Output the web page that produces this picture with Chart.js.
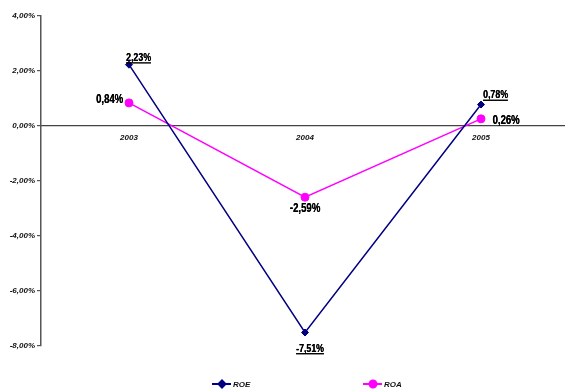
<!DOCTYPE html>
<html>
<head>
<meta charset="utf-8">
<script src="https://cdn.jsdelivr.net/npm/chart.js@4/dist/chart.umd.min.js"></script>
<style>
  html, body { margin: 0; padding: 0; background: #fff; overflow: hidden; }
  canvas { display: block; }
</style>
</head>
<body>
<canvas id="chart" width="574" height="389"></canvas>
<script>
// Yearly profitability ratios (percent)
const categories = ['2003', '2004', '2005'];
const roeValues = [2.23, -7.51, 0.78];
const roaValues = [0.84, -2.59, 0.26];
const yTickValues = [-8, -6, -4, -2, 0, 2, 4];

const ROE_COLOR = '#000080';
const ROA_COLOR = '#FF00FF';

// Percent with a decimal comma, e.g. 2,23%
const fmt = v => v.toFixed(2).replace('.', ',') + '%';

// Where each value label sits relative to its point (dx, dy of the text centre)
const labelPlacement = {
  ROE: [[9.5, -7], [5, 16], [14.5, -9.5]],
  ROA: [[-19.5, -3], [0, 11], [25, 1.5]]
};
const labelSize = { ROE: 11, ROA: 12 };

// Value labels in a condensed bold face; ROE labels are underlined
const valueLabels = {
  id: 'valueLabels',
  afterDatasetsDraw(chart) {
    const ctx = chart.ctx;
    const squeeze = 0.8;
    chart.data.datasets.forEach((ds, di) => {
      const meta = chart.getDatasetMeta(di);
      meta.data.forEach((pt, i) => {
        const [dx, dy] = labelPlacement[ds.label][i];
        const text = fmt(ds.data[i]);
        const x = pt.x + dx, y = pt.y + dy;
        ctx.save();
        ctx.translate(x, y);
        ctx.scale(squeeze, 1);
        ctx.font = 'bold ' + labelSize[ds.label] + 'px "Liberation Sans", Arial, sans-serif';
        ctx.textAlign = 'center';
        ctx.textBaseline = 'middle';
        ctx.fillStyle = '#000';
        ctx.fillText(text, 0, 0);
        ctx.fillText(text, 0.3, 0);
        if (ds.label === 'ROE') {
          const w = ctx.measureText(text).width;
          ctx.fillRect(-w / 2, 4.5, w, 1.4);
        }
        ctx.restore();
      });
    });
  }
};

// Legend drawn along the bottom edge: line + marker + bold italic name
const bottomLegend = {
  id: 'bottomLegend',
  afterDraw(chart) {
    const ctx = chart.ctx;
    const y = 384;
    const items = [
      { x: 212, label: 'ROE', color: ROE_COLOR, style: 'rectRot', r: 3.5 },
      { x: 363, label: 'ROA', color: ROA_COLOR, style: 'circle', r: 3.5 }
    ];
    ctx.save();
    items.forEach(it => {
      ctx.strokeStyle = it.color;
      ctx.lineWidth = 2;
      ctx.beginPath();
      ctx.moveTo(it.x, y);
      ctx.lineTo(it.x + 19, y);
      ctx.stroke();
      ctx.fillStyle = it.color;
      Chart.helpers.drawPoint(ctx, { pointStyle: it.style, radius: it.r, borderWidth: 1 }, it.x + 10, y);
      ctx.fillStyle = '#111';
      ctx.font = 'italic bold 8px "Liberation Sans", Arial, sans-serif';
      ctx.textAlign = 'left';
      ctx.textBaseline = 'middle';
      ctx.fillText(it.label, it.x + 21, y + 0.5);
    });
    ctx.restore();
  }
};

const tickFont = { family: '"Liberation Sans", Arial, sans-serif', size: 8, style: 'italic', weight: 'bold' };

new Chart(document.getElementById('chart'), {
  type: 'line',
  data: {
    labels: categories,
    datasets: [
      {
        label: 'ROE',
        data: roeValues,
        borderColor: ROE_COLOR,
        backgroundColor: ROE_COLOR,
        borderWidth: 1.5,
        pointStyle: 'rectRot',
        pointRadius: 3.5,
        pointBorderWidth: 1,
        tension: 0
      },
      {
        label: 'ROA',
        data: roaValues,
        borderColor: ROA_COLOR,
        backgroundColor: ROA_COLOR,
        borderWidth: 1.5,
        pointStyle: 'circle',
        pointRadius: 4,
        pointBorderWidth: 1,
        tension: 0
      }
    ]
  },
  options: {
    responsive: false,
    animation: false,
    devicePixelRatio: 1,
    layout: { padding: { top: 16, bottom: 43, left: 0, right: 0 } },
    plugins: {
      legend: { display: false },
      tooltip: { enabled: false }
    },
    scales: {
      x: {
        type: 'category',
        offset: true,
        position: { y: 0 },
        grid: { display: true, drawOnChartArea: false, drawTicks: false },
        border: { display: true, color: '#444', width: 1.2 },
        ticks: { padding: 7, color: '#111', font: tickFont }
      },
      y: {
        min: -8,
        max: 4,
        afterBuildTicks: scale => { scale.ticks = yTickValues.map(v => ({ value: v })); },
        afterFit: scale => { scale.width = 41; },
        grid: { drawOnChartArea: false, tickLength: 4, color: '#555', lineWidth: 1.2 },
        border: { display: true, color: '#555', width: 1.5 },
        ticks: { padding: 2, color: '#111', callback: v => fmt(v), font: tickFont }
      }
    }
  },
  plugins: [valueLabels, bottomLegend]
});
</script>
</body>
</html>
